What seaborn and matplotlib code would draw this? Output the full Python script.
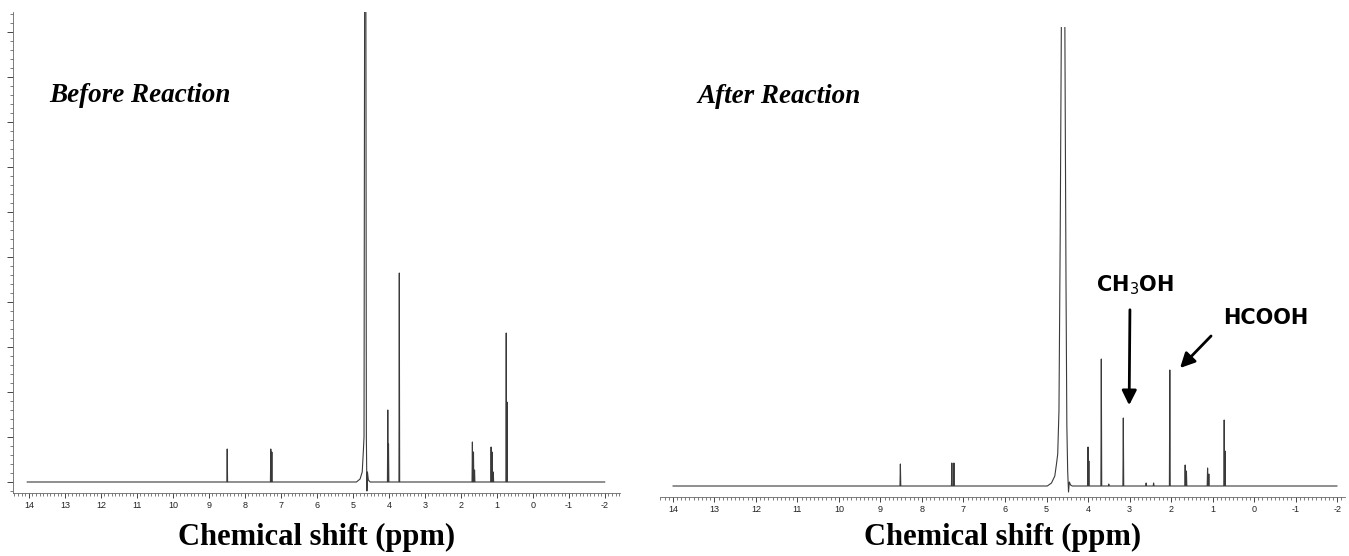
import pandas as pd
import matplotlib.pyplot as plt
from matplotlib.ticker import MultipleLocator
import seaborn as sns

sns.set_style('white')
plt.rcParams['axes.unicode_minus'] = False
plt.rcParams['font.family'] = ['Liberation Sans', 'DejaVu Sans']

# peak lists (ppm, intensity in arbitrary units)
before_ppm = [8.49, 7.28, 7.25, 4.03, 4.01, 3.71, 1.68, 1.65, 1.62, 1.16, 1.13, 1.10, 0.74, 0.72]
before_int = [33, 33, 30, 72, 38, 209, 40, 30, 12, 35, 30, 10, 149, 80]
after_ppm = [8.52, 7.28, 7.23, 4.00, 3.98, 3.68, 3.50, 3.15, 2.60, 2.42, 2.03, 1.66, 1.63, 1.12, 1.09, 0.72, 0.70]
after_int = [22, 23, 23, 39, 25, 127, 2, 68, 3, 3, 116, 21, 15, 18, 12, 66, 35]

# water signal traced point by point (goes off the top of the plot)
before_water_ppm = [4.90, 4.80, 4.74, 4.71, 4.69, 4.665, 4.645, 4.625, 4.61, 4.595, 4.57, 4.52]
before_water_int = [0, 3, 10, 30, 45, 700, 700, 45, -9, 10, 2, 0]
after_water_ppm = [4.98, 4.88, 4.80, 4.76, 4.73, 4.70, 4.67, 4.64, 4.60, 4.56, 4.53, 4.51, 4.49, 4.47, 4.45, 4.42, 4.38]
after_water_int = [0, 3, 10, 22, 32, 75, 250, 480, 620, 480, 200, 60, 15, -6, 4, 1, 0]

# ends of the recorded baseline
before_range = [14.05, -2.0]
after_range = [14.0, -2.0]

x_ticks = list(range(14, -3, -1))


def build_trace(ppm, inten, w_ppm, w_int, ends, hw=0.01):
    pts = [(ends[0], 0), (ends[1], 0)]
    for p, h in zip(ppm, inten):
        pts += [(p + hw, 0), (p, h), (p - hw, 0)]
    pts += list(zip(w_ppm, w_int))
    df = pd.DataFrame(pts, columns=['ppm', 'intensity'])
    return df.sort_values('ppm', ascending=False).reset_index(drop=True)


before = build_trace(before_ppm, before_int, before_water_ppm, before_water_int, before_range)
after = build_trace(after_ppm, after_int, after_water_ppm, after_water_int, after_range)

fig = plt.figure(figsize=(13.49, 5.56), dpi=100)
W, H = 1349, 556
ax1 = fig.add_axes([13 / W, 1 - 493 / H, 607 / W, 481 / H])
ax2 = fig.add_axes([660 / W, 1 - 497 / H, 685 / W, 470 / H])

line_col = '#3a3a3a'
for ax, df in [(ax1, before), (ax2, after)]:
    sns.lineplot(data=df, x='ppm', y='intensity', sort=False, estimator=None,
                 color=line_col, lw=0.8, ax=ax)
    ax.set_xticks(x_ticks)
    ax.set_xticklabels([str(t) for t in x_ticks])
    ax.xaxis.set_minor_locator(MultipleLocator(0.1))
    ax.tick_params(axis='x', which='major', direction='out', length=3.8, width=0.7,
                   color='#444444', labelsize=6.5, pad=2, labelcolor='#222222', bottom=True)
    ax.tick_params(axis='x', which='minor', direction='out', length=2.2, width=0.6,
                   color='#666666', bottom=True)
    for s in ['top', 'right']:
        ax.spines[s].set_visible(False)
    ax.spines['bottom'].set_color('#666666')
    ax.spines['bottom'].set_linewidth(0.6)
    ax.set_ylabel('')
    ax.set_xlabel('Chemical shift (ppm)', fontfamily='Liberation Serif',
                  fontweight='bold', fontsize=22, color='black')
    ax.xaxis.label.set_va('baseline')

ax1.set_xlim(14.44, -2.42)
ax1.set_ylim(-11, 470)
ax2.set_xlim(14.31, -2.19)
ax2.set_ylim(-11, 459)

# left panel keeps its intensity axis (ticks only, no labels)
ax1.yaxis.set_major_locator(MultipleLocator(45))
ax1.yaxis.set_minor_locator(MultipleLocator(9))
ax1.tick_params(axis='y', which='major', direction='out', length=4, width=0.7,
                color='#444444', left=True, labelleft=False)
ax1.tick_params(axis='y', which='minor', direction='out', length=2.5, width=0.6,
                color='#666666', left=True)
ax1.spines['left'].set_color('#666666')
ax1.spines['left'].set_linewidth(0.6)

ax2.spines['left'].set_visible(False)
ax2.set_yticks([])

ax1.xaxis.set_label_coords(0.5, -0.108)
ax2.xaxis.set_label_coords(0.5, -0.102)

ax1.text(0.059, 0.813, 'Before Reaction', transform=ax1.transAxes,
         fontfamily='Liberation Serif', fontweight='bold', fontstyle='italic',
         fontsize=19.5, va='baseline', ha='left', color='black')
ax2.text(0.054, 0.838, 'After Reaction', transform=ax2.transAxes,
         fontfamily='Liberation Serif', fontweight='bold', fontstyle='italic',
         fontsize=19.5, va='baseline', ha='left', color='black')

# labelled products
ax2.text(2.87, 201, 'CH$_3$OH', fontsize=15, fontweight='bold', fontfamily='DejaVu Sans',
         ha='center', va='center', color='black')
ax2.annotate('', xy=(3.01, 78), xytext=(2.99, 179),
             arrowprops=dict(arrowstyle='-|>', lw=2, color='black', mutation_scale=22))
ax2.text(0.75, 168, 'HCOOH', fontsize=15, fontweight='bold', fontfamily='DejaVu Sans',
         ha='left', va='center', color='black')
ax2.annotate('', xy=(1.83, 116), xytext=(0.99, 152),
             arrowprops=dict(arrowstyle='-|>', lw=2, color='black', mutation_scale=22))

fig.savefig('out.png', dpi=100)
